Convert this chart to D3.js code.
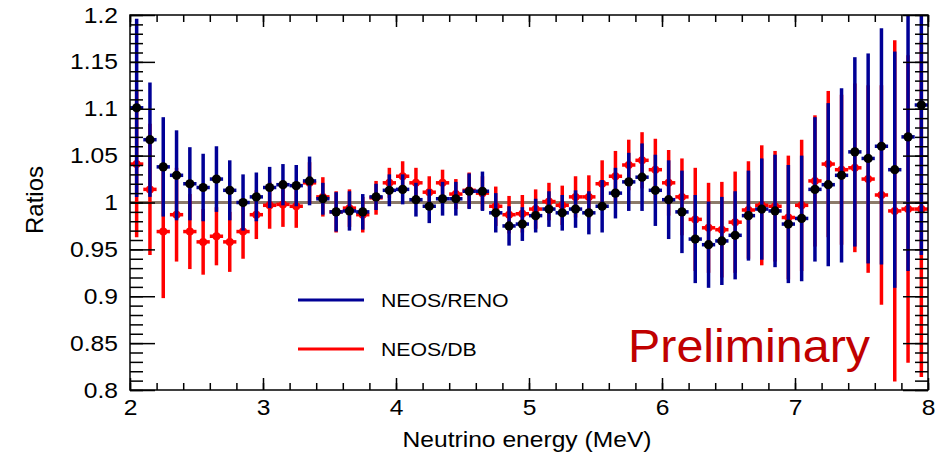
<!DOCTYPE html>
<html>
<head>
<meta charset="utf-8">
<script src="https://cdn.jsdelivr.net/npm/d3@7/dist/d3.min.js"></script>
<style>
  body { margin: 0; background: #fff; }
  svg { display: block; }
  text { font-family: "Liberation Sans", Arial, sans-serif; fill: #000; }
</style>
</head>
<body>
<div id="chart"></div>
<script>
// bin centres (MeV)
const energies = [
  2.05, 2.15, 2.25, 2.35, 2.45, 2.55, 2.65, 2.75, 2.85, 2.95,
  3.05, 3.15, 3.25, 3.35, 3.45, 3.55, 3.65, 3.75, 3.85, 3.95,
  4.05, 4.15, 4.25, 4.35, 4.45, 4.55, 4.65, 4.75, 4.85, 4.95,
  5.05, 5.15, 5.25, 5.35, 5.45, 5.55, 5.65, 5.75, 5.85, 5.95,
  6.05, 6.15, 6.25, 6.35, 6.45, 6.55, 6.65, 6.75, 6.85, 6.95,
  7.05, 7.15, 7.25, 7.35, 7.45, 7.55, 7.65, 7.75, 7.85, 7.95
]

// NEOS/RENO ratio and its error
const renoRatio = [
  1.101, 1.067, 1.038, 1.029, 1.020, 1.016, 1.025, 1.013, 1.000, 1.006,
  1.016, 1.019, 1.018, 1.023, 1.004, 0.990, 0.991, 0.990, 1.006, 1.013,
  1.014, 1.003, 0.996, 1.004, 1.004, 1.012, 1.012, 0.989, 0.975, 0.977,
  0.986, 0.993, 0.989, 0.993, 0.989, 0.996, 1.010, 1.022, 1.027, 1.013,
  1.003, 0.990, 0.961, 0.955, 0.959, 0.965, 0.986, 0.993, 0.991, 0.977,
  0.983, 1.014, 1.019, 1.029, 1.054, 1.047, 1.060, 1.035, 1.070, 1.104
]
const renoErr = [
  0.095, 0.061, 0.053, 0.048, 0.039, 0.036, 0.035, 0.032, 0.030, 0.026,
  0.022, 0.022, 0.022, 0.026, 0.017, 0.021, 0.021, 0.019, 0.014, 0.017,
  0.016, 0.018, 0.018, 0.018, 0.018, 0.019, 0.021, 0.021, 0.021, 0.018,
  0.018, 0.019, 0.019, 0.020, 0.023, 0.028, 0.027, 0.031, 0.036, 0.038,
  0.042, 0.044, 0.047, 0.046, 0.047, 0.047, 0.048, 0.054, 0.060, 0.063,
  0.067, 0.077, 0.087, 0.093, 0.101, 0.112, 0.126, 0.126, 0.143, 0.160
]

// NEOS/DB ratio and its error
const dbRatio = [
  1.041, 1.014, 0.969, 0.987, 0.969, 0.958, 0.964, 0.958, 0.969, 0.987,
  0.997, 0.998, 0.996, 1.021, 1.006, 0.990, 0.994, 0.987, 1.005, 1.021,
  1.028, 1.021, 1.011, 1.021, 1.009, 1.013, 1.010, 0.996, 0.987, 0.988,
  0.993, 1.001, 0.997, 1.006, 1.006, 1.020, 1.028, 1.040, 1.045, 1.035,
  1.021, 1.006, 0.982, 0.973, 0.971, 0.979, 0.992, 0.997, 0.996, 0.984,
  0.997, 1.023, 1.041, 1.035, 1.037, 1.025, 1.008, 0.991, 0.993, 0.993
]
const dbErr = [
  0.078, 0.070, 0.071, 0.050, 0.040, 0.035, 0.031, 0.032, 0.029, 0.026,
  0.025, 0.024, 0.023, 0.022, 0.021, 0.022, 0.020, 0.019, 0.018, 0.016,
  0.016, 0.016, 0.017, 0.014, 0.016, 0.019, 0.018, 0.021, 0.020, 0.020,
  0.021, 0.020, 0.021, 0.022, 0.023, 0.025, 0.027, 0.027, 0.030, 0.033,
  0.035, 0.041, 0.055, 0.048, 0.051, 0.054, 0.052, 0.064, 0.059, 0.066,
  0.070, 0.070, 0.078, 0.080, 0.090, 0.100, 0.117, 0.182, 0.164, 0.179
]

const binHalfWidth = 0.05
const xTicks = [2, 3, 4, 5, 6, 7, 8]
const yTicks = [0.8, 0.85, 0.9, 0.95, 1, 1.05, 1.1, 1.15, 1.2]
const yTickLabels = ['0.8', '0.85', '0.9', '0.95', '1', '1.05', '1.1', '1.15', '1.2']
const legendLabels = ['NEOS/RENO', 'NEOS/DB']

const width = 938, height = 459
const margins = { top: 15, right: 10, bottom: 69, left: 130 }
const plotW = width - margins.left - margins.right
const plotH = height - margins.top - margins.bottom
const blue = '#000096', red = '#ff0000'
const stretchX = 1.12

const svg = d3.select('#chart').append('svg')
  .attr('width', width)
  .attr('height', height)

const x = d3.scaleLinear().domain([2, 8]).range([margins.left, margins.left + plotW])
const y = d3.scaleLinear().domain([0.8, 1.2]).range([margins.top + plotH, margins.top])

// text in the original is a bit wider than tall
function stretch(sel) {
  sel.each(function () {
    const t = d3.select(this)
    const tx = +t.attr('x') || 0
    const ty = +t.attr('y') || 0
    t.attr('x', 0).attr('y', 0)
      .attr('transform', `translate(${tx},${ty}) scale(${stretchX},1)`)
  })
}

svg.append('defs').append('clipPath').attr('id', 'frame')
  .append('rect')
  .attr('x', margins.left).attr('y', margins.top)
  .attr('width', plotW).attr('height', plotH)

// reference line at 1
svg.append('line')
  .attr('x1', x(2)).attr('x2', x(8))
  .attr('y1', y(1)).attr('y2', y(1))
  .attr('stroke', '#8c7a6a')
  .attr('stroke-width', 3)

function drawSeries(vals, errs, barColor, markColor, r) {
  const g = svg.append('g').attr('clip-path', 'url(#frame)')
  const pts = energies.map((e, i) => ({ e, v: vals[i], s: errs[i] }))
  g.selectAll('line.v').data(pts).join('line')
    .attr('x1', d => x(d.e)).attr('x2', d => x(d.e))
    .attr('y1', d => y(d.v - d.s)).attr('y2', d => y(d.v + d.s))
    .attr('stroke', barColor).attr('stroke-width', 3.5)
  g.selectAll('line.h').data(pts).join('line')
    .attr('x1', d => x(d.e - binHalfWidth)).attr('x2', d => x(d.e + binHalfWidth))
    .attr('y1', d => y(d.v)).attr('y2', d => y(d.v))
    .attr('stroke', barColor).attr('stroke-width', 3.5)
  g.selectAll('circle').data(pts).join('circle')
    .attr('cx', d => x(d.e)).attr('cy', d => y(d.v))
    .attr('r', r).attr('fill', markColor)
}

drawSeries(dbRatio, dbErr, red, red, 4)
drawSeries(renoRatio, renoErr, blue, '#000', 4.6)

// axes, ROOT style: ticks inside on all four sides
const yMinor = d3.range(80, 121).map(v => v / 100)
const xMinor = d3.range(10, 41).map(v => v / 5)

svg.append('g')
  .attr('transform', `translate(${margins.left},0)`)
  .call(d3.axisLeft(y).tickValues(yMinor).tickSize(-13).tickFormat(''))
svg.append('g')
  .attr('transform', `translate(${margins.left + plotW},0)`)
  .call(d3.axisRight(y).tickValues(yMinor).tickSize(-13).tickFormat(''))
svg.append('g')
  .attr('transform', `translate(${margins.left + plotW},0)`)
  .call(d3.axisRight(y).tickValues(yTicks).tickSize(-25).tickFormat(''))
const yAxis = svg.append('g')
  .attr('class', 'y axis')
  .attr('transform', `translate(${margins.left},0)`)
  .call(d3.axisLeft(y).tickValues(yTicks).tickSize(-25).tickPadding(12)
    .tickFormat((d, i) => yTickLabels[i]))

svg.append('g')
  .attr('transform', `translate(0,${margins.top + plotH})`)
  .call(d3.axisBottom(x).tickValues(xMinor).tickSize(-7).tickFormat(''))
svg.append('g')
  .attr('transform', `translate(0,${margins.top})`)
  .call(d3.axisTop(x).tickValues(xMinor).tickSize(-7).tickFormat(''))
svg.append('g')
  .attr('transform', `translate(0,${margins.top})`)
  .call(d3.axisTop(x).tickValues(xTicks).tickSize(-12).tickFormat(''))
const xAxis = svg.append('g')
  .attr('class', 'x axis')
  .attr('transform', `translate(0,${margins.top + plotH})`)
  .call(d3.axisBottom(x).tickValues(xTicks).tickSize(-12).tickPadding(9).tickFormat(d3.format('d')))

svg.selectAll('.domain').remove()
svg.selectAll('.tick line').attr('stroke', '#000').attr('stroke-width', 1.5)
svg.selectAll('.tick text').attr('font-size', 22).attr('font-family', '"Liberation Sans", Arial, sans-serif').attr('fill', '#000')
stretch(yAxis.selectAll('.tick text'))
stretch(xAxis.selectAll('.tick text'))

svg.append('rect')
  .attr('x', margins.left).attr('y', margins.top)
  .attr('width', plotW).attr('height', plotH)
  .attr('fill', 'none').attr('stroke', '#000').attr('stroke-width', 1.5)

// axis titles
svg.append('text')
  .attr('x', 527).attr('y', 447)
  .attr('text-anchor', 'middle')
  .attr('font-size', 22)
  .text('Neutrino energy (MeV)')
  .call(stretch)

svg.append('text')
  .attr('transform', 'translate(43,200) rotate(-90)')
  .attr('text-anchor', 'middle')
  .attr('font-size', 24)
  .text('Ratios')

// legend
const legend = svg.append('g')
legendLabels.forEach((label, i) => {
  const ly = 300 + i * 49
  legend.append('line')
    .attr('x1', 298).attr('x2', 364)
    .attr('y1', ly).attr('y2', ly)
    .attr('stroke', i === 0 ? blue : red)
    .attr('stroke-width', 3)
  legend.append('text')
    .attr('x', 381).attr('y', ly + 7)
    .attr('font-size', 19)
    .text(label)
    .call(stretch)
})

svg.append('text')
  .attr('x', 628).attr('y', 362)
  .attr('font-family', '"Open Sans", "Noto Sans", sans-serif')
  .attr('font-size', 46)
  .attr('textLength', 242)
  .attr('lengthAdjust', 'spacingAndGlyphs')
  .style('fill', '#c00000')
  .text('Preliminary')
</script>
</body>
</html>
